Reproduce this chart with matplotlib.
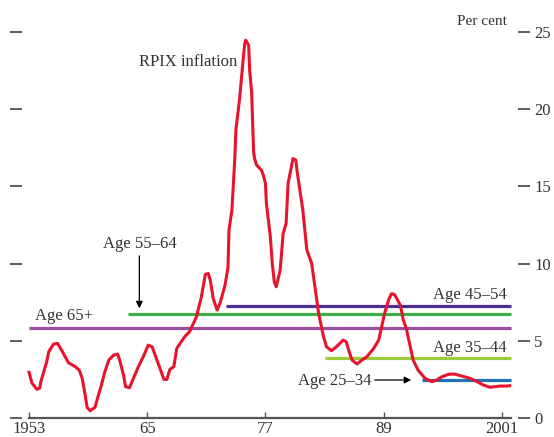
import matplotlib.pyplot as plt

plt.rcParams['font.family'] = ['Liberation Serif', 'DejaVu Serif']

# RPIX inflation, per cent
rpix_year = [1953.0, 1953.3, 1953.8, 1954.1, 1954.2, 1954.8, 1955.0, 1955.5, 1955.9, 1956.3,
             1957.0, 1957.7, 1958.1, 1958.4, 1958.7, 1958.9, 1959.2, 1959.7, 1960.0, 1960.4,
             1960.7, 1961.1, 1961.6, 1962.0, 1962.2, 1962.6, 1962.8, 1963.2, 1963.6, 1964.1,
             1964.6, 1965.1, 1965.5, 1965.8, 1966.3, 1966.7, 1967.0, 1967.3, 1967.7, 1968.0,
             1968.8, 1969.3, 1970.0, 1970.5, 1970.9, 1971.2, 1971.4, 1971.7, 1972.1, 1972.4,
             1972.9, 1973.2, 1973.3, 1973.6, 1973.9, 1974.0, 1974.4, 1974.7, 1974.9, 1975.0,
             1975.3, 1975.4, 1975.6, 1975.7, 1975.8, 1975.9, 1976.1, 1976.6, 1976.8, 1977.0,
             1977.1, 1977.5, 1977.7, 1977.9, 1978.1, 1978.5, 1978.8, 1979.1, 1979.3, 1979.7,
             1979.8, 1980.1, 1980.2, 1980.5, 1980.8, 1981.0, 1981.2, 1981.7, 1982.0, 1982.4,
             1982.9, 1983.2, 1983.7, 1984.2, 1984.9, 1985.2, 1985.5, 1985.8, 1986.3, 1986.8,
             1987.3, 1988.0, 1988.5, 1988.8, 1989.1, 1989.5, 1989.8, 1990.1, 1990.7, 1991.0,
             1991.3, 1991.7, 1992.0, 1992.5, 1993.2, 1993.9, 1994.4, 1994.9, 1995.6, 1996.2,
             1996.9, 1997.8, 1998.5, 1999.1, 1999.8, 2000.3, 2000.8, 2001.5, 2001.8]
rpix_value = [2.96, 2.26, 1.86, 1.94, 2.35, 3.65, 4.29, 4.79, 4.83, 4.40,
              3.58, 3.32, 3.10, 2.57, 1.49, 0.69, 0.47, 0.69, 1.38, 2.25,
              3.00, 3.75, 4.08, 4.14, 3.75, 2.78, 2.03, 1.96, 2.57, 3.32,
              3.97, 4.72, 4.61, 4.08, 3.21, 2.50, 2.50, 3.15, 3.32, 4.51,
              5.26, 5.59, 6.56, 7.85, 9.30, 9.36, 8.93, 7.75, 6.99, 7.45,
              8.60, 9.75, 12.17, 13.46, 16.91, 18.64, 20.80, 22.96, 24.25, 24.47,
              24.14, 22.50, 21.12, 19.07, 17.24, 16.80, 16.38, 16.05, 15.70, 15.19,
              13.90, 11.73, 10.00, 8.82, 8.50, 9.58, 11.95, 12.60, 15.19, 16.49,
              16.80, 16.70, 16.05, 14.76, 13.46, 12.17, 10.90, 10.00, 8.60, 6.78,
              5.26, 4.61, 4.36, 4.61, 5.05, 4.94, 4.29, 3.75, 3.50, 3.75,
              3.97, 4.51, 5.05, 5.91, 6.78, 7.64, 8.05, 8.00, 7.31, 6.34,
              5.80, 4.61, 3.75, 3.10, 2.57, 2.35, 2.46, 2.67, 2.83, 2.85,
              2.72, 2.57, 2.35, 2.14, 1.99, 2.03, 2.07, 2.07, 2.09]

# perceived inflation by age group: start year, level
age_labels = ['Age 65+', 'Age 55\u201364', 'Age 45\u201354', 'Age 35\u201344', 'Age 25\u201334']
age_start = [1953.0, 1963.0, 1973.0, 1983.0, 1992.9]
age_level = [5.85, 6.73, 7.25, 3.86, 2.46]
age_colors = ['#9a4fa0', '#3fae49', '#4b2f93', '#9ccb3b', '#1f72b8']
line_end = 2001.9

x_ticks = [1953, 1965, 1977, 1989, 2001]
x_ticklabels = ['1953', '65', '77', '89', '2001']
y_ticks = [0, 5, 10, 15, 20, 25]

text_col = '#333333'
axis_col = '#555555'

fig = plt.figure(figsize=(5.54, 4.37), dpi=100)
ax = fig.add_axes([10 / 554, 19 / 437, 520 / 554, 386 / 437])

for lvl, start, col in zip(age_level, age_start, age_colors):
    ax.plot([start, line_end], [lvl, lvl], color=col, lw=2.3, solid_capstyle='butt', zorder=2)

ax.plot(rpix_year, rpix_value, color='#e8142d', lw=2.2, zorder=3, clip_on=False)

ax.set_xlim(1951.07, 2003.86)
ax.set_ylim(0, 25)

for s in ['top', 'left', 'right']:
    ax.spines[s].set_visible(False)
ax.spines['bottom'].set_bounds(1953, line_end)
ax.spines['bottom'].set_color(axis_col)
ax.spines['bottom'].set_linewidth(1.6)

ax.set_xticks(x_ticks)
ax.set_xticklabels(x_ticklabels)
ax.tick_params(axis='x', direction='in', length=4, width=1, color=axis_col,
               labelsize=12, labelcolor=text_col, pad=2)

ax.set_yticks(y_ticks)
ax.tick_params(axis='y', which='both', direction='in', length=8.6, width=1.1,
               color=text_col, left=True, right=True, labelleft=False, labelright=True,
               labelsize=12, labelcolor=text_col, pad=3)
ax.yaxis.set_ticks_position('both')
ax.yaxis.set_label_position('right')

fs = 12
ax.text(2001.5, 25.7, 'Per cent', ha='right', va='center', fontsize=11, color=text_col)
ax.text(1974.1, 23.05, 'RPIX inflation', ha='right', va='center', fontsize=fs, color=text_col)
ax.text(1953.6, 6.6, age_labels[0], ha='left', va='center', fontsize=fs, color=text_col)
ax.text(1964.25, 11.3, age_labels[1], ha='center', va='center', fontsize=fs, color=text_col)
ax.text(2001.5, 7.96, age_labels[2], ha='right', va='center', fontsize=fs, color=text_col)
ax.text(2001.5, 4.51, age_labels[3], ha='right', va='center', fontsize=fs, color=text_col)
ax.text(1987.8, 2.4, age_labels[4], ha='right', va='center', fontsize=fs, color=text_col)

arrow = dict(arrowstyle='-|>', color='black', lw=0.9, mutation_scale=10, shrinkA=0, shrinkB=0)
ax.annotate('', xy=(1964.2, 7.1), xytext=(1964.2, 10.5), arrowprops=arrow)
ax.annotate('', xy=(1991.8, 2.46), xytext=(1988.1, 2.46), arrowprops=arrow)

fig.savefig('out.png', dpi=100)
